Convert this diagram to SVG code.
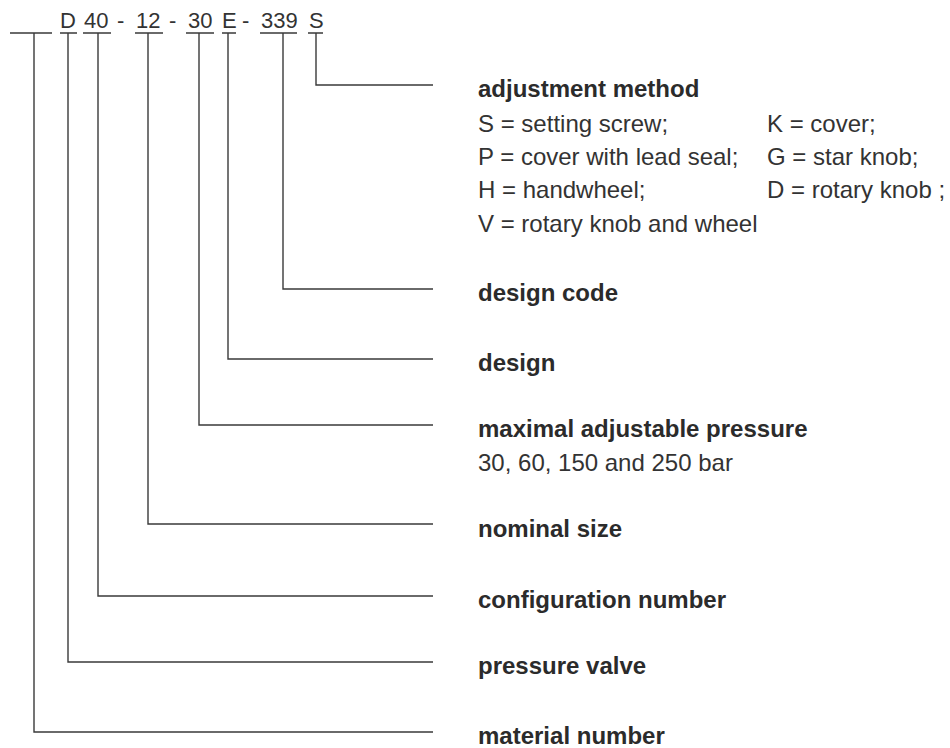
<svg xmlns="http://www.w3.org/2000/svg" width="950" height="748" viewBox="0 0 950 748">
<style>
  .ln { stroke: #3a3a3a; stroke-width: 1.4; fill: none; }
  .code { font-family: "Liberation Sans", Arial, sans-serif; font-size: 22px; fill: #333; }
  .hd { font-family: "Liberation Sans", Arial, sans-serif; font-size: 24px; font-weight: bold; fill: #2b2b2b; }
  .tx { font-family: "Liberation Sans", Arial, sans-serif; font-size: 24px; fill: #333; }
</style>
<rect width="950" height="748" fill="#ffffff"/>
<g id="code">
  <text class="code" y="28"><tspan x="60">D</tspan><tspan x="84">40</tspan><tspan x="117">-</tspan><tspan x="136">12</tspan><tspan x="169">-</tspan><tspan x="188">30</tspan><tspan x="222">E</tspan><tspan x="242">-</tspan><tspan x="261">339</tspan><tspan x="309">S</tspan></text>
  <path class="ln" d="M10 33H52 M60 33H77 M83 33H111 M135 33H163 M186 33H214 M222 33H236 M260 33H297 M308 33H323"/>
</g>
<g id="connectors">
  <path class="ln" d="M316 33V85H433"/>
  <path class="ln" d="M283 33V289H433"/>
  <path class="ln" d="M228 33V359H433"/>
  <path class="ln" d="M199 33V425H433"/>
  <path class="ln" d="M148 33V524H433"/>
  <path class="ln" d="M98 33V596H433"/>
  <path class="ln" d="M68 33V662H433"/>
  <path class="ln" d="M34 33V732H433"/>
</g>
<g id="adjustment-method">
  <text class="hd" x="478" y="97">adjustment method</text>
  <text class="tx" x="478" y="131.5">S = setting screw;</text>
  <text class="tx" x="767" y="131.5">K = cover;</text>
  <text class="tx" x="478" y="165">P = cover with lead seal;</text>
  <text class="tx" x="767" y="165">G = star knob;</text>
  <text class="tx" x="478" y="198">H = handwheel;</text>
  <text class="tx" x="767" y="198">D = rotary knob ;</text>
  <text class="tx" x="478" y="232">V = rotary knob and wheel</text>
</g>
<g id="design-code"><text class="hd" x="478" y="301">design code</text></g>
<g id="design"><text class="hd" x="478" y="371">design</text></g>
<g id="max-pressure">
  <text class="hd" x="478" y="437">maximal adjustable pressure</text>
  <text class="tx" x="478" y="471">30, 60, 150 and 250 bar</text>
</g>
<g id="nominal-size"><text class="hd" x="478" y="537">nominal size</text></g>
<g id="configuration-number"><text class="hd" x="478" y="608">configuration number</text></g>
<g id="pressure-valve"><text class="hd" x="478" y="674">pressure valve</text></g>
<g id="material-number"><text class="hd" x="478" y="744">material number</text></g>
</svg>
